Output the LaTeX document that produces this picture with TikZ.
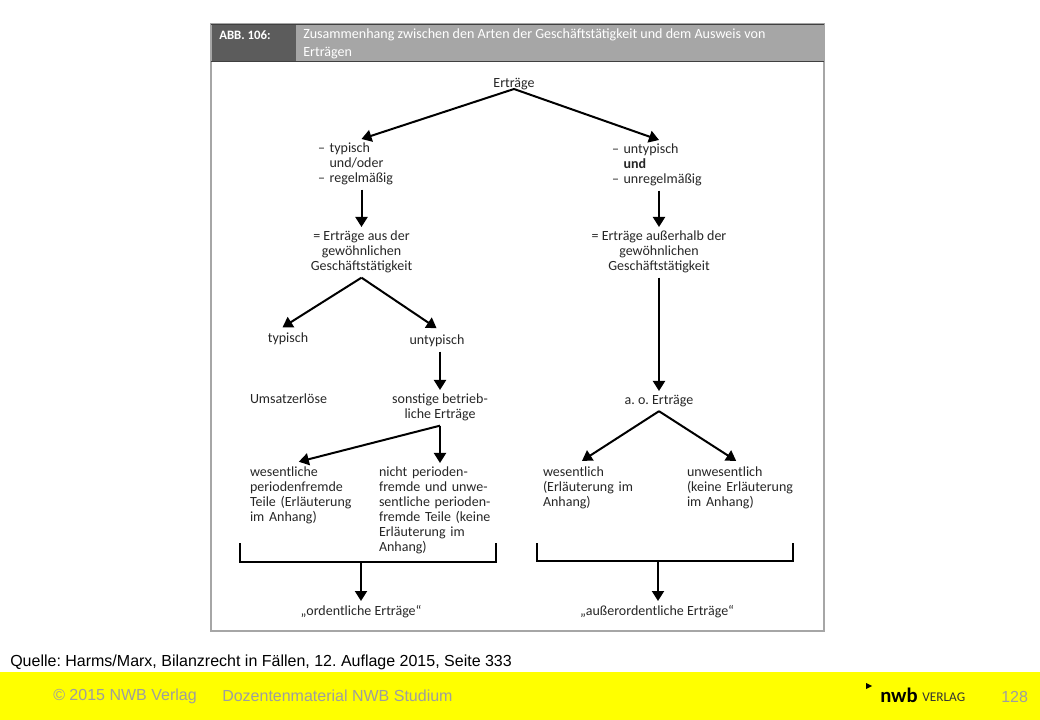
\documentclass[tikz,border=0pt]{standalone}
\usepackage{fontspec}
\setmainfont{Carlito}
\newfontfamily\footfont{Liberation Sans}
\usetikzlibrary{arrows.meta}
\definecolor{headdark}{gray}{0.36}
\definecolor{headlight}{gray}{0.65}
\definecolor{footgray}{gray}{0.62}
\definecolor{footyellow}{RGB}{255,255,0}
\frenchspacing
\tikzset{
	txt/.style={inner xsep=0pt, inner ysep=3pt, anchor=north, font=\fontsize{10.5}{11.25}\selectfont, text=black!85},
	lefttxt/.style={txt, align=left, text width=#1*0.75pt},
	midtxt/.style={txt, align=center},
	flow/.style={line width=1.5pt, -{Triangle[length=7.5pt, width=9pt]}},
	bracket/.style={line width=1.5pt},
	headtxt/.style={inner sep=0pt, anchor=west, text=white, font=\fontsize{10.55}{13.5}\selectfont, align=left},
	foottxt/.style={inner sep=0pt, anchor=west, font=\footfont\fontsize{12}{14}\selectfont, text=footgray}
}

\begin{document}
\begin{tikzpicture}[x=0.75pt, y=-0.75pt]
	\useasboundingbox (0, 0) rectangle (1040, 720);

	\fill[footyellow] (0, 672) rectangle (1040, 720);
	\draw[gray!70, line width=1pt] (211, 24) rectangle (824, 631);
	\fill[headdark] (212, 25) rectangle (296, 61);
	\fill[headlight] (296, 25) rectangle (823, 61);
	\draw[black!75, line width=1pt] (211, 24.5) -- (824, 24.5);
	\draw[black!75, line width=1pt] (211, 61.5) -- (824, 61.5);

	\node[headtxt, font=\fontsize{9.6}{13.5}\selectfont\bfseries] (abb) at (219, 35) {ABB. 106:};
	\node[headtxt] (title) at (303, 44) {Zusammenhang zwischen den Arten der Geschäftstätigkeit und dem Ausweis von\\Erträgen};

	\node[midtxt, anchor=south] (ertraege) at (514, 94) {Erträge};
	\coordinate (ertraegefork) at (514, 89);

	\node[lefttxt=87] (typ) at (361.5, 139) {– typisch\\\phantom{– }und/oder\\– regelmäßig};
	\node[lefttxt=94] (untyp) at (659, 140) {– untypisch\\\phantom{– }\textbf{und}\\– unregelmäßig};

	\node[midtxt] (gew) at (361.5, 227) {= Erträge aus der\\gewöhnlichen\\Geschäftstätigkeit};
	\node[midtxt] (ausser) at (659, 227) {= Erträge außerhalb der\\gewöhnlichen\\Geschäftstätigkeit};

	\node[midtxt] (typisch) at (288, 329) {typisch};
	\node[midtxt] (untypisch) at (437, 331) {untypisch};

	\node[lefttxt=80] (umsatz) at (290, 390) {Umsatzerlöse};
	\node[midtxt] (sonstige) at (440, 390) {sonstige betrieb-\\liche Erträge};
	\node[midtxt] (ao) at (659, 391) {a. o. Erträge};

	\node[lefttxt=108] (wes) at (304, 463) {wesentliche\\periodenfremde\\Teile (Erläuterung\\im Anhang)};
	\node[lefttxt=122] (nicht) at (440, 463) {nicht perioden-\\fremde und unwe-\\sentliche perioden-\\fremde Teile (keine\\Erläuterung im\\Anhang)};
	\node[lefttxt=96] (weszwei) at (591, 463) {wesentlich\\(Erläuterung im\\Anhang)};
	\node[lefttxt=114] (unwes) at (744, 463) {unwesentlich\\(keine Erläuterung\\im Anhang)};

	\node[midtxt] (ordentlich) at (361, 601) {„ordentliche Erträge“};
	\node[midtxt] (ausserord) at (657, 601) {„außerordentliche Erträge“};

	\draw[flow] (ertraegefork) -- (typ.north);
	\draw[flow] (ertraegefork) -- (untyp.north);
	\draw[flow] (typ.south) -- (gew.north);
	\draw[flow] (untyp.south) -- (ausser.north);

	\draw[flow, shorten >=2.25pt] (gew.south) -- (typisch.128);
	\draw[flow, shorten >=3.75pt] (gew.south) -- (untypisch.70);
	\draw[flow] (untypisch.south -| sonstige.north) -- (sonstige.north);
	\draw[flow] (ausser.south) -- (ao.north);

	\draw[flow, shorten >=3.75pt] (sonstige.south) -- (wes.107);
	\draw[flow] (sonstige.south) -- (nicht.north);
	\draw[flow, shorten >=3pt] (ao.south) -- (weszwei.116);
	\draw[flow, shorten >=3pt] (ao.south) -- (unwes.100);

	\coordinate (bracketa) at (361, 561.5);
	\coordinate (bracketb) at (658, 561);
	\draw[bracket] (240, 543) -- (240, 561.5) -- (496, 561.5) -- (496, 543);
	\draw[bracket] (537, 543) -- (537, 561) -- (793, 561) -- (793, 543);
	\draw[flow] (bracketa) -- (ordentlich.north);
	\draw[flow] (bracketb) -- (ausserord.north -| bracketb);

	\node[inner sep=0pt, anchor=west, font=\footfont\fontsize{12}{14}\selectfont] (quelle) at (10, 662) {Quelle: Harms/Marx, Bilanzrecht in Fällen, 12. Auflage 2015, Seite 333};
	\node[foottxt] (copy) at (53, 696) {© 2015 NWB Verlag};
	\node[foottxt] (doz) at (222, 696) {Dozentenmaterial NWB Studium};
	\node[foottxt] (seite) at (1001, 697) {128};

	\fill (866, 683) -- (872, 686) -- (866, 689) -- cycle;
	\node[inner sep=0pt, anchor=west, font=\fontsize{15.5}{15.5}\selectfont\bfseries] (nwb) at (880, 695) {nwb};
	\node[inner sep=0pt, anchor=west, font=\fontsize{10}{10}\selectfont, text=black!80] (verlag) at (922, 697) {VERLAG};
\end{tikzpicture}
\end{document}
